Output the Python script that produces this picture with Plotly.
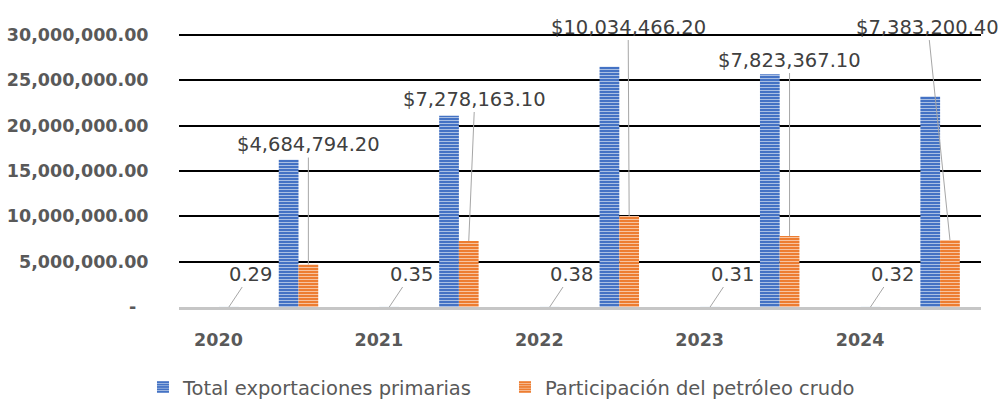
import plotly.graph_objects as go

# ---- data ----
years = [2020, 2021, 2022, 2023, 2024]
year_labels = ["2020", "2021", "2022", "2023", "2024"]
total_primarias = [16240000, 21080000, 26510000, 25670000, 23210000]
petroleo_crudo = [4684794.20, 7278163.10, 10034466.20, 7823367.10, 7383200.40]
participacion = [0.29, 0.35, 0.38, 0.31, 0.32]
petroleo_labels = ["$4,684,794.20", "$7,278,163.10", "$10,034,466.20", "$7,823,367.10", "$7,383,200.40"]
participacion_labels = ["0.29", "0.35", "0.38", "0.31", "0.32"]
y_tick_vals = [0, 5000000, 10000000, 15000000, 20000000, 25000000, 30000000]
y_tick_text = ["-\u00a0\u00a0", "5,000,000.00", "10,000,000.00", "15,000,000.00",
               "20,000,000.00", "25,000,000.00", "30,000,000.00"]

# ---- layout constants ----
BAR_W = 0.123
OFF_PART = 0.065 - BAR_W / 2
OFF_BLUE = 0.4375 - BAR_W / 2
OFF_ORANGE = OFF_BLUE + BAR_W
label_dx = [0, 6, -1, 0, -22]
label_dy = [-120, -142, -189, -176, -213]

BLUE = "#4472C4"
ORANGE = "#ED7D31"
TXT = "#595959"
LBL = "#404040"
LEADER = "#A6A6A6"

fig = go.Figure()
fig.add_trace(go.Bar(
    x=years, y=participacion, name="Participación (proporción)",
    width=BAR_W, offset=OFF_PART, marker_color="#A5A5A5", showlegend=False,
))
fig.add_trace(go.Bar(
    x=years, y=total_primarias, name="Total exportaciones primarias",
    width=BAR_W, offset=OFF_BLUE,
    marker=dict(color=BLUE, line_width=0,
                pattern=dict(shape="-", fgcolor="#B4C7E7", bgcolor=BLUE,
                             size=3, solidity=0.3, fillmode="replace")),
))
fig.add_trace(go.Bar(
    x=years, y=petroleo_crudo, name="Participación del petróleo crudo",
    width=BAR_W, offset=OFF_ORANGE,
    marker=dict(color=ORANGE, line_width=0,
                pattern=dict(shape="-", fgcolor="#F8CBAD", bgcolor=ORANGE,
                             size=3, solidity=0.3, fillmode="replace")),
))

annotations = []
for i, yr in enumerate(years):
    annotations.append(dict(
        x=yr + OFF_ORANGE + BAR_W / 2, y=petroleo_crudo[i], xref="x", yref="y",
        text=petroleo_labels[i], showarrow=True, arrowhead=0, arrowwidth=1,
        arrowcolor=LEADER, ax=label_dx[i], ay=label_dy[i],
        font=dict(family="DejaVu Sans", size=19.5, color=LBL),
    ))
    annotations.append(dict(
        x=yr + OFF_PART + BAR_W / 2, y=participacion[i], xref="x", yref="y",
        text=participacion_labels[i], showarrow=True, arrowhead=0, arrowwidth=1,
        arrowcolor=LEADER, ax=22, ay=-33,
        font=dict(family="DejaVu Sans", size=19.5, color=LBL),
    ))

fig.update_layout(
    width=1004, height=401,
    margin=dict(l=179, r=23, t=32, b=94, autoexpand=False),
    paper_bgcolor="white", plot_bgcolor="white",
    barmode="group", hovermode=False,
    font=dict(family="DejaVu Sans", color=TXT),
    annotations=annotations,
    legend=dict(orientation="h", x=-0.0449, xanchor="left", y=-0.292, yanchor="middle",
                font=dict(family="DejaVu Sans", size=19.5, color=TXT),
                itemwidth=30, entrywidth=317, bgcolor="rgba(0,0,0,0)"),
    xaxis=dict(
        range=[2019.754, 2024.754], tickvals=years, ticktext=year_labels,
        showgrid=False, zeroline=False, showline=True, linecolor="#C6C6C6", linewidth=3,
        ticks="outside", ticklen=15, tickcolor="rgba(0,0,0,0)",
        tickfont=dict(family="DejaVu Sans", size=17.5, color=TXT, weight="bold"),
    ),
    yaxis=dict(
        range=[0, 30330000], tickvals=y_tick_vals, ticktext=y_tick_text,
        showgrid=True, gridcolor="#000000", gridwidth=2, zeroline=False, showline=False,
        ticks="outside", ticklen=26, tickcolor="rgba(0,0,0,0)",
        tickfont=dict(family="DejaVu Sans", size=17.5, color=TXT, weight="bold"),
    ),
)

fig.write_html("out.html", config={"displayModeBar": False},
               post_script="document.body.style.margin='0';")
